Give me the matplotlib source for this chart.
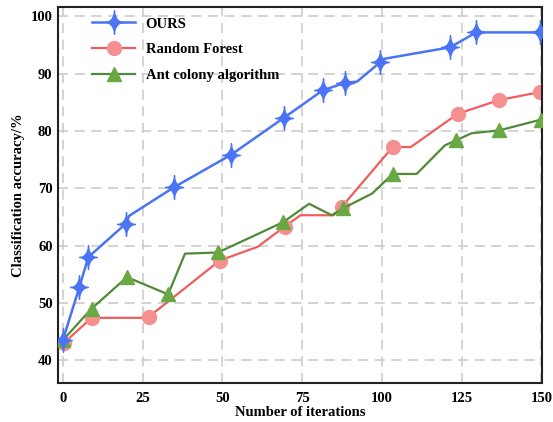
import matplotlib.pyplot as plt
from matplotlib.path import Path
import numpy as np

# OURS
ours_x = [0, 5.2, 8.0, 19.7, 20.8, 34.9, 52.6, 69.3, 81.5, 88.5, 92.2, 99.5, 100.8, 121.4, 129.6, 132.5, 149.7]
ours_y = [43.5, 52.8, 58.0, 63.8, 65.2, 70.2, 75.8, 82.3, 87.1, 88.4, 88.6, 92.0, 92.6, 94.6, 97.2, 97.2, 97.2]
ours_mk = [0, 1, 2, 3, 5, 6, 7, 8, 9, 11, 13, 14, 16]

# Random Forest
rf_x = [0.3, 9.0, 24.7, 27.0, 49.2, 61.1, 69.5, 74.5, 84.9, 87.5, 103.4, 109.1, 123.8, 136.8, 149.7]
rf_y = [43.0, 47.4, 47.4, 47.6, 57.4, 59.8, 63.3, 65.3, 65.3, 66.8, 77.2, 77.2, 83.0, 85.4, 86.8]
rf_mk = [0, 1, 3, 4, 6, 9, 10, 12, 13, 14]

# Ant colony algorithm
ac_x = [0, 9.0, 20.1, 33.0, 38.3, 48.6, 61.4, 69.1, 77.2, 84.3, 87.8, 97.0, 103.4, 110.9, 119.8, 123.4, 128.1, 136.8, 150]
ac_y = [43.5, 49.0, 54.5, 51.5, 58.6, 58.8, 62.1, 64.1, 67.3, 65.3, 66.5, 69.1, 72.5, 72.5, 77.5, 78.4, 79.6, 80.1, 82.0]
ac_mk = [0, 1, 2, 3, 5, 7, 10, 12, 15, 17, 18]

# 4-point sparkle star marker (concave sides, taller than wide)
t = np.linspace(0, 2 * np.pi, 161)
c, s = np.cos(t), np.sin(t)
sx = 0.75 * np.sign(c) * np.abs(c) ** 3.6
sy = 1.0 * np.sign(s) * np.abs(s) ** 3.6
star = Path(np.column_stack([sx, sy]), closed=True)

plt.rcParams['font.family'] = ['Liberation Serif', 'DejaVu Serif']
plt.rcParams['font.weight'] = 'bold'

fig = plt.figure(figsize=(5.53, 4.22), dpi=100)
ax = fig.add_axes([0.105, 0.092, 0.875, 0.891])

ax.plot(ac_x, ac_y, color='#4E8A38', lw=1.6, marker='^', markevery=ac_mk,
        markersize=10, markerfacecolor='#6AA843', markeredgecolor='#6AA843',
        label='Ant colony algorithm', zorder=3)
ax.plot(rf_x, rf_y, color='#F25C5C', lw=1.6, marker='o', markevery=rf_mk,
        markersize=10, markerfacecolor='#F69090', markeredgecolor='#F69090',
        label='Random Forest', zorder=2)
ax.plot(ours_x, ours_y, color='#4A74F5', lw=1.8, marker=star, markevery=ours_mk,
        markersize=17, markerfacecolor='#4A74F5', markeredgecolor='#4A74F5',
        label='OURS', zorder=4)

ax.set_xlim(-1.5, 150.2)
ax.set_ylim(36, 101.6)
ax.set_xticks([0, 25, 50, 75, 100, 125, 150])
ax.set_yticks([40, 50, 60, 70, 80, 90, 100])
ax.tick_params(length=0, labelsize=10.5)
ax.tick_params(axis='y', pad=4)
ax.tick_params(axis='x', pad=6)
for lab in ax.get_xticklabels() + ax.get_yticklabels():
    lab.set_fontweight('bold')
ax.grid(True, color='#CCCCCC', linestyle=(0, (6, 4)), lw=1.2)
ax.set_axisbelow(True)
for sp in ax.spines.values():
    sp.set_linewidth(1.5)
    sp.set_color('#222222')

ax.set_xlabel('Number of iterations', fontsize=10.5, fontweight='bold', labelpad=1)
ax.set_ylabel('Classification accuracy/%', fontsize=10.5, fontweight='bold', labelpad=4)

h, l = ax.get_legend_handles_labels()
ax.legend(h[::-1], l[::-1], loc='upper left', frameon=False,
          handlelength=2.9, handletextpad=0.75, borderaxespad=0.3, labelspacing=0.85,
          bbox_to_anchor=(0.05, 1.0), prop={'weight': 'bold', 'size': 10.5})

fig.savefig('out.png', dpi=100)
